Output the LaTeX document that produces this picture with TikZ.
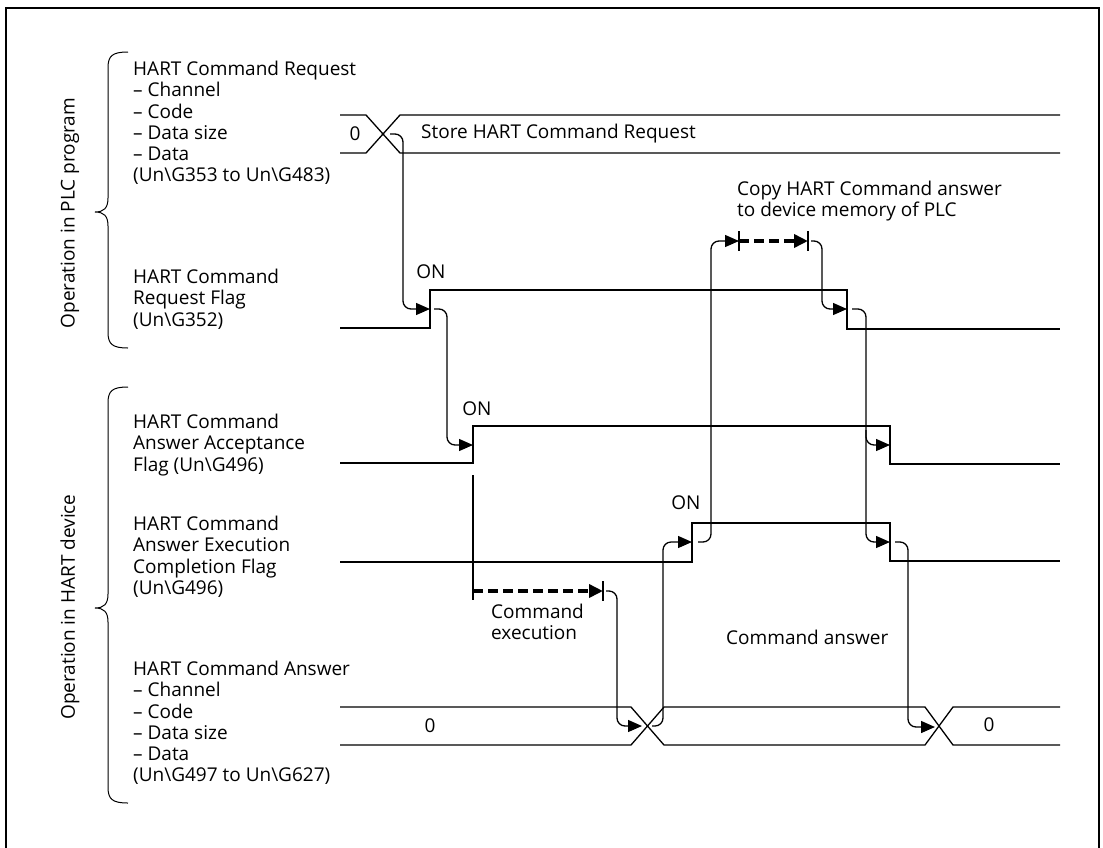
\documentclass[tikz,border=0pt]{standalone}
\usepackage{fontspec}
\setmainfont{Open Sans}
\usetikzlibrary{arrows.meta}
\begin{document}
\begin{tikzpicture}[x=1pt,y=-1pt,
  sig/.style={line width=1.3pt},
  conn/.style={line width=1.3pt, rounded corners=8pt, -{Triangle[length=14pt,width=12pt]}},
  dashconn/.style={line width=3.5pt, dash pattern=on 10pt off 5pt, -{Triangle[length=14pt,width=13pt]}},
  tick/.style={line width=1.3pt},
  brace/.style={line width=1pt},
  lbl/.style={font=\fontsize{19}{21.2}\selectfont, align=left, anchor=north west, inner sep=0pt},
  txt/.style={font=\fontsize{19}{21.2}\selectfont, inner sep=0pt},
]
\useasboundingbox (0,0) rectangle (1103,847);
\draw[line width=2pt] (6,850) -- (6,8) -- (1099,8) -- (1099,850);

% braces
\draw[brace] (128,52) .. controls (112,52) and (108,56) .. (108,68) -- (108,198)
  .. controls (108,208) and (104,212) .. (95,212) .. controls (104,212) and (108,216) .. (108,226)
  -- (108,332) .. controls (108,344) and (112,348) .. (128,348);
\draw[brace] (128,387) .. controls (112,387) and (108,391) .. (108,403) -- (108,594)
  .. controls (108,604) and (104,608) .. (95,608) .. controls (104,608) and (108,612) .. (108,622)
  -- (108,787) .. controls (108,799) and (112,803) .. (128,803);

\node[txt, rotate=90] (grp1) at (70,213) {Operation in PLC program};
\node[txt, rotate=90] (grp2) at (70,607) {Operation in HART device};

% left labels
\node[lbl] (l1) at (133,61) {HART Command Request\\– Channel\\– Code\\– Data size\\– Data\\(Un\textbackslash G353 to Un\textbackslash G483)};
\node[lbl] (l2) at (133,269) {HART Command\\Request Flag\\(Un\textbackslash G352)};
\node[lbl] (l3) at (133,414) {HART Command\\Answer Acceptance\\Flag (Un\textbackslash G496)};
\node[lbl] (l4) at (133,516) {HART Command\\Answer Execution\\Completion Flag\\(Un\textbackslash G496)};
\node[lbl] (l5) at (133,661) {HART Command Answer\\– Channel\\– Code\\– Data size\\– Data\\(Un\textbackslash G497 to Un\textbackslash G627)};

% signals
\draw[sig] (340,115) -- (366,115) -- (400,153) -- (1060,153);
\draw[sig] (340,153) -- (366,153) -- (400,115) -- (1060,115);
\draw[sig] (340,328) -- (430,328) -- (430,290) -- (847,290) -- (847,329) -- (1060,329);
\draw[sig] (340,463) -- (473,463) -- (473,426) -- (890,426) -- (890,464) -- (1060,464);
\draw[sig] (340,562) -- (692,562) -- (692,523) -- (890,523) -- (890,561) -- (1060,561);
\draw[sig] (340,707) -- (631,707) -- (664,745) -- (925,745) -- (953,707) -- (1060,707);
\draw[sig] (340,745) -- (631,745) -- (664,707) -- (925,707) -- (953,745) -- (1060,745);

% texts on signals
\node[txt] (z1) at (355,134) {0};
\node[txt, anchor=west] (store) at (421,134) {Store HART Command Request};
\node[txt] (on1) at (431,272) {ON};
\node[txt] (on2) at (477,409) {ON};
\node[txt] (on3) at (686,503) {ON};
\node[txt] (z2) at (430,726) {0};
\node[txt] (z3) at (989,725) {0};
\node[lbl] (copy) at (737,181) {Copy HART Command answer\\to device memory of PLC};
\node[lbl] (exec) at (491,604) {Command\\execution};
\node[txt, anchor=west] (ans) at (726,637) {Command answer};

% coordinates
\coordinate (x1) at (390,134);
\coordinate (rf1) at (430,309);
\coordinate (rf1b) at (434,309);
\coordinate (af1) at (473,445);
\coordinate (ex0) at (473,475);
\coordinate (ex1) at (473,600);
\coordinate (ex2) at (603,591);
\coordinate (ex3) at (606,591);
\coordinate (cx1) at (642,726);
\coordinate (cx1b) at (652,726);
\coordinate (cf1) at (692,542);
\coordinate (cf1b) at (698,542);
\coordinate (cp1) at (739,241);
\coordinate (cp2) at (808,241);
\coordinate (cp3) at (811,241);
\coordinate (rf2) at (847,309);
\coordinate (rf2b) at (852,309);
\coordinate (af2) at (890,445);
\coordinate (br) at (866,430);
\coordinate (cf2) at (890,542);
\coordinate (cf2b) at (895,542);
\coordinate (cx2) at (935,727);

% connectors
\draw[conn] (x1) -- (403,134) -- (403,309) -- (rf1);
\draw[conn] (rf1b) -- (447,309) -- (447,445) -- (af1);
\draw[sig] (ex0) -- (ex1);
\draw[dashconn] (473,591) -- (ex2);
\draw[tick] (603,581) -- (603,601);
\draw[conn] (ex3) -- (617,591) -- (617,726) -- (cx1);
\draw[conn] (cx1b) -- (663,726) -- (663,542) -- (cf1);
\draw[conn] (cf1b) -- (711,542) -- (711,241) -- (cp1);
\draw[tick] (739,231) -- (739,251);
\draw[dashconn] (cp1) -- (cp2);
\draw[tick] (808,231) -- (808,251);
\draw[conn] (cp3) -- (822,241) -- (822,309) -- (rf2);
\draw[conn] (rf2b) -- (866,309) -- (866,445) -- (af2);
\draw[conn] (br) -- (866,542) -- (cf2);
\draw[conn] (cf2b) -- (908,542) -- (908,727) -- (cx2);
\end{tikzpicture}
\end{document}
